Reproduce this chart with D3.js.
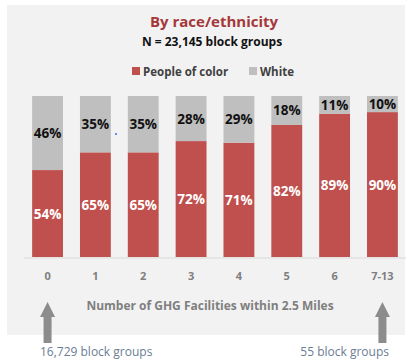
<!DOCTYPE html>
<html><head><meta charset="utf-8">
<script src="https://cdn.jsdelivr.net/npm/d3@7"></script>
<style>body{margin:0;background:#fff;}svg{display:block;font-family:"Open Sans",Lato,sans-serif;}</style>
</head><body>
<svg id="c" width="409" height="360"></svg>
<script>
const categories = ["0","1","2","3","4","5","6","7-13"];
const peopleOfColor = [54,65,65,72,71,82,89,90];
const white = [46,35,35,28,29,18,11,10];
const seriesNames = ["People of color","White"];
const colors = ["#c0504d","#bfbfbf"];

const svg = d3.select("#c");
svg.append("rect").attr("x",7).attr("y",5).attr("width",398).attr("height",330).attr("fill","#f2f2f2");

svg.append("text").attr("x",214).attr("y",27).attr("text-anchor","middle")
  .attr("font-size",15).attr("font-weight","bold").attr("fill","#a5373a").text("By race/ethnicity");
svg.append("text").attr("x",212).attr("y",45.5).attr("text-anchor","middle")
  .attr("font-size",12).attr("font-weight","bold").attr("fill","#111").text("N = 23,145 block groups");

// legend
const leg = [{x:132,name:seriesNames[0],c:colors[0]},{x:249,name:seriesNames[1],c:colors[1]}];
leg.forEach(l=>{
  svg.append("rect").attr("x",l.x).attr("y",67).attr("width",8).attr("height",8).attr("fill",l.c);
  svg.append("text").attr("x",l.x+11).attr("y",75.5).attr("font-size",11.5).attr("font-weight","bold")
    .attr("fill","#404040").text(l.name);
});

const x = d3.scaleBand().domain(categories).range([24,406]).paddingInner(0.355).paddingOuter(0.17);
const y = d3.scaleLinear().domain([0,100]).range([257,96]);

const data = categories.map((c,i)=>({cat:c, poc:peopleOfColor[i], white:white[i]}));
const stack = d3.stack().keys(["poc","white"])(data);

stack.forEach((s,si)=>{
  svg.append("g").selectAll("rect").data(s).join("rect")
    .attr("x",d=>x(d.data.cat)).attr("width",x.bandwidth())
    .attr("y",d=>y(d[1])).attr("height",d=>y(d[0])-y(d[1]))
    .attr("fill",colors[si]);
  svg.append("g").selectAll("text").data(s).join("text")
    .attr("x",d=>x(d.data.cat)+x.bandwidth()/2)
    .attr("y",d=>(y(d[0])+y(d[1]))/2+5)
    .attr("text-anchor","middle").attr("font-size",13.5).attr("font-weight","bold")
    .attr("fill",si===0?"#ffffff":"#111")
    .text(d=>(d[1]-d[0])+"%");
});

// axis line
svg.append("line").attr("x1",24).attr("x2",406).attr("y1",258).attr("y2",258).attr("stroke","#d9d9d9").attr("stroke-width",1);

const ax = svg.append("g").attr("transform","translate(0,258)")
  .call(d3.axisBottom(x).tickSize(0).tickPadding(14));
ax.select(".domain").remove();
ax.selectAll("text").attr("font-size",11).attr("font-weight","bold").attr("fill","#7f7f7f").attr("font-family","'Open Sans',sans-serif");

svg.append("text").attr("x",210).attr("y",310).attr("text-anchor","middle")
  .attr("font-size",12).attr("font-weight","bold").attr("fill","#7f7f7f").text("Number of GHG Facilities within 2.5 Miles");

// small blue dot artifact
svg.append("circle").attr("cx",116).attr("cy",134).attr("r",1).attr("fill","#4a5cff");

// arrows
function arrow(cx){
  const p = `M${cx-4},343 L${cx-4},317 L${cx-7.5},317 L${cx},302 L${cx+7.5},317 L${cx+4},317 L${cx+4},343 Z`;
  svg.append("path").attr("d",p).attr("fill","#8c8c8c");
}
arrow(x(categories[0])+x.bandwidth()/2);
arrow(x(categories[7])+x.bandwidth()/2);

svg.append("text").attr("x",40).attr("y",356).attr("font-size",12).attr("fill","#6b7d95").text("16,729 block groups");
svg.append("text").attr("x",389).attr("y",356).attr("text-anchor","end").attr("font-size",12).attr("fill","#6b7d95").text("55 block groups");
</script>
</body></html>
